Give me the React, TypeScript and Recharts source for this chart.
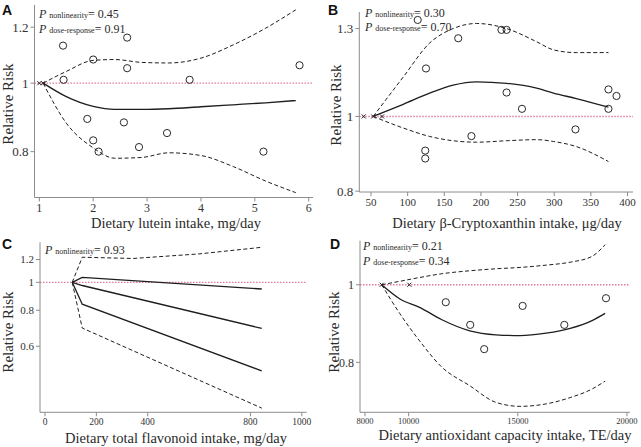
import React from 'react';
import { ComposedChart, Line, Scatter, XAxis, YAxis, ReferenceLine } from 'recharts';

const FONT = '"Liberation Serif", "Times New Roman", serif';
const SANS = '"Liberation Sans", Arial, sans-serif';

// ---------- Panel A: lutein ----------
const luteinGrid = [1.07, 1.5, 2.0, 2.4, 2.9, 3.4, 4.0, 4.6, 5.2, 5.76];
const luteinRR = [1, 0.957, 0.927, 0.918, 0.918, 0.92, 0.926, 0.932, 0.938, 0.945];
const luteinUpper = [1, 1.039, 1.077, 1.08, 1.07, 1.068, 1.085, 1.133, 1.196, 1.27];
const luteinLower = [1, 0.878, 0.81, 0.783, 0.785, 0.797, 0.79, 0.762, 0.727, 0.7];
const luteinStudyX = [1.44, 1.45, 2.0, 2.63, 2.63, 3.79, 5.83, 1.89, 2.0, 2.1, 2.57, 2.85, 3.37, 5.16];
const luteinStudyRR = [1.13, 1.011, 1.08, 1.16, 1.05, 1.011, 1.06, 0.89, 0.83, 0.8, 0.88, 0.812, 0.85, 0.8];
const luteinRefX = [1.0, 1.07];
const luteinTicksX = [1, 2, 3, 4, 5, 6];
const luteinTicksY = [0.8, 1, 1.2];

// ---------- Panel B: beta-cryptoxanthin ----------
const bcxGrid = [53, 94, 130, 162, 194, 235, 276, 299, 330, 374];
const bcxRR = [1, 1.037, 1.072, 1.098, 1.109, 1.104, 1.088, 1.072, 1.055, 1.028];
const bcxUpper = [1, 1.125, 1.245, 1.3, 1.32, 1.3, 1.25, 1.22, 1.21, 1.21];
const bcxLower = [1, 0.966, 0.942, 0.93, 0.926, 0.93, 0.933, 0.928, 0.914, 0.874];
const bcxStudyX = [113.7, 228, 235, 169, 125, 235, 374, 385, 256, 374, 329, 187, 124, 124];
const bcxStudyRR = [1.334, 1.295, 1.295, 1.263, 1.154, 1.074, 1.084, 1.063, 1.023, 1.023, 0.962, 0.943, 0.903, 0.882];
const bcxRefX = [40, 53, 65];
const bcxTicksX = [50, 100, 150, 200, 250, 300, 350, 400];
const bcxTicksY = [0.8, 1, 1.3];

// ---------- Panel C: total flavonoid ----------
const flavGrid = [106, 145, 844];
const flavLine1 = [1, 1.04, 0.948];
const flavLine2 = [1, 0.975, 0.692];
const flavLine3 = [1, 0.84, 0.493];
const flavUpperX = [106, 145, 343, 600, 844];
const flavUpper = [1, 1.222, 1.21, 1.255, 1.323];
const flavLower = [1, 0.694, 0.366];
const flavTicksX = [0, 200, 400, 800, 1000];
const flavTicksY = [0.6, 0.8, 1, 1.2];

// ---------- Panel D: antioxidant capacity ----------
const taxGrid = [8765, 9600, 10500, 11500, 12800, 14000, 15100, 16300, 17400, 18400, 19000];
const taxRR = [1, 0.96, 0.937, 0.905, 0.876, 0.866, 0.864, 0.87, 0.882, 0.902, 0.921];
const taxUpper = [1, 1.01, 1.021, 1.032, 1.041, 1.047, 1.051, 1.058, 1.067, 1.085, 1.122];
const taxLower = [1, 0.92, 0.851, 0.79, 0.748, 0.713, 0.705, 0.71, 0.723, 0.741, 0.758];
const taxStudyX = [11700, 12820, 13460, 15220, 17130, 19040];
const taxStudyRR = [0.951, 0.891, 0.831, 0.941, 0.891, 0.962];
const taxRefX = [8765, 10030];
const taxTicksX = [8000, 10000, 15000, 20000];
const taxTicksY = [0.8, 1];

const zip = (xs: number[], ys: number[]) => xs.map((x, i) => ({ x, y: ys[i] }));
const ones = (xs: number[]) => xs.map((x) => ({ x, y: 1 }));

const AXIS = '#8c8c8c';
const INK = '#1e1e1e';

const circleShape = (p: any) => (
  <circle cx={p.cx} cy={p.cy} r={3.6} fill="none" stroke="#2a2a2a" strokeWidth={1} />
);
const crossShape = (p: any) => (
  <g stroke="#222" strokeWidth={1}>
    <line x1={p.cx - 2} y1={p.cy - 2} x2={p.cx + 2} y2={p.cy + 2} />
    <line x1={p.cx - 2} y1={p.cy + 2} x2={p.cx + 2} y2={p.cy - 2} />
  </g>
);

type PanelProps = {
  box: [number, number, number, number];
  plot: [number, number, number, number];
  xDomain: [number, number];
  yDomain: [number, number];
  xTicks: number[];
  yTicks: number[];
  xFont: number;
  yFont: number;
  solids: { x: number; y: number }[][];
  dashes: { x: number; y: number }[][];
  studies: { x: number; y: number }[];
  marks: { x: number; y: number }[];
  curve: 'monotone' | 'linear';
};

function Panel(props: PanelProps) {
  const [left, top, w, h] = props.box;
  const [pl, pt, pr, pb] = props.plot;
  return (
    <div style={{ position: 'absolute', left, top, width: w, height: h }}>
      <ComposedChart width={w} height={h} margin={{ top: pt, right: w - pr, left: 0, bottom: 0 }}>
        <XAxis
          type="number"
          dataKey="x"
          domain={props.xDomain}
          ticks={props.xTicks}
          allowDataOverflow
          interval={0}
          height={h - pb}
          stroke={AXIS}
          tickSize={4}
          tickMargin={2}
          tick={{ fill: '#333', fontSize: props.xFont, fontFamily: FONT }}
        />
        <YAxis
          type="number"
          scale="log"
          domain={props.yDomain}
          ticks={props.yTicks}
          allowDataOverflow
          interval={0}
          width={pl}
          stroke={AXIS}
          tickSize={4}
          tickMargin={2}
          tick={{ fill: '#333', fontSize: props.yFont, fontFamily: FONT }}
        />
        <ReferenceLine y={1} stroke="#e27d9c" strokeWidth={1.4} strokeDasharray="1.5 1.5" />
        {props.dashes.map((d, i) => (
          <Line
            key={'d' + i}
            data={d}
            dataKey="y"
            type={props.curve}
            stroke={INK}
            strokeWidth={1}
            strokeDasharray="4 2.5"
            dot={false}
            activeDot={false}
            isAnimationActive={false}
          />
        ))}
        {props.solids.map((d, i) => (
          <Line
            key={'s' + i}
            data={d}
            dataKey="y"
            type={props.curve}
            stroke={INK}
            strokeWidth={1.3}
            dot={false}
            activeDot={false}
            isAnimationActive={false}
          />
        ))}
        <Scatter data={props.studies} dataKey="y" shape={circleShape} isAnimationActive={false} />
        <Scatter data={props.marks} dataKey="y" shape={crossShape} isAnimationActive={false} />
      </ComposedChart>
    </div>
  );
}

const T = ({ x, y, children, size = 14.5, rotate = false }: any) => (
  <div
    style={{
      position: 'absolute',
      left: x,
      top: y,
      transform: `translate(-50%, -50%)${rotate ? ' rotate(-90deg)' : ''}`,
      whiteSpace: 'nowrap',
      fontFamily: FONT,
      fontSize: size,
      color: '#2a2a2a',
      lineHeight: 1,
    }}
  >
    {children}
  </div>
);

const PStat = ({ x, y, sub, val }: any) => (
  <div
    style={{
      position: 'absolute',
      left: x,
      top: y,
      transform: 'translateY(-50%)',
      whiteSpace: 'nowrap',
      fontFamily: FONT,
      fontSize: 12,
      color: '#2a2a2a',
      lineHeight: 1,
    }}
  >
    <i>P</i> <span style={{ fontSize: 8 }}>{sub}</span>= {val}
  </div>
);

const Letter = ({ x, y, c }: any) => (
  <div
    style={{
      position: 'absolute',
      left: x,
      top: y,
      fontFamily: SANS,
      fontWeight: 700,
      fontSize: 14,
      color: '#111',
      lineHeight: 1,
    }}
  >
    {c}
  </div>
);

export default function App() {
  return (
    <div style={{ position: 'absolute', left: 0, top: 0, width: 641, height: 447, background: '#fff', overflow: 'hidden' }}>
      <Panel
        box={[0, 0, 320, 224]}
        plot={[34.5, 5, 313, 197.5]}
        xDomain={[0.91, 6.08]}
        yDomain={[0.689, 1.29]}
        xTicks={luteinTicksX}
        yTicks={luteinTicksY}
        xFont={12}
        yFont={13}
        solids={[zip(luteinGrid, luteinRR)]}
        dashes={[zip(luteinGrid, luteinUpper), zip(luteinGrid, luteinLower)]}
        studies={zip(luteinStudyX, luteinStudyRR)}
        marks={ones(luteinRefX)}
        curve="monotone"
      />
      <Panel
        box={[320, 0, 321, 224]}
        plot={[39.3, 12, 313, 192]}
        xDomain={[34, 407.5]}
        yDomain={[0.798, 1.366]}
        xTicks={bcxTicksX}
        yTicks={bcxTicksY}
        xFont={11}
        yFont={13}
        solids={[zip(bcxGrid, bcxRR)]}
        dashes={[zip(bcxGrid, bcxUpper), zip(bcxGrid, bcxLower)]}
        studies={zip(bcxStudyX, bcxStudyRR)}
        marks={ones(bcxRefX)}
        curve="monotone"
      />
      <Panel
        box={[0, 224, 320, 223]}
        plot={[40, 18.3, 306.7, 188.3]}
        xDomain={[-19.5, 1019]}
        yDomain={[0.354, 1.377]}
        xTicks={flavTicksX}
        yTicks={flavTicksY}
        xFont={9.5}
        yFont={11}
        solids={[zip(flavGrid, flavLine1), zip(flavGrid, flavLine2), zip(flavGrid, flavLine3)]}
        dashes={[zip(flavUpperX, flavUpper), zip(flavGrid, flavLower)]}
        studies={[]}
        marks={[]}
        curve="linear"
      />
      <Panel
        box={[320, 224, 321, 223]}
        plot={[40, 16.7, 310, 188.3]}
        xDomain={[7771, 20139]}
        yDomain={[0.693, 1.135]}
        xTicks={taxTicksX}
        yTicks={taxTicksY}
        xFont={8.5}
        yFont={12}
        solids={[zip(taxGrid, taxRR)]}
        dashes={[zip(taxGrid, taxUpper), zip(taxGrid, taxLower)]}
        studies={zip(taxStudyX, taxStudyRR)}
        marks={ones(taxRefX)}
        curve="monotone"
      />

      <Letter x={2} y={3} c="A" />
      <Letter x={328} y={3} c="B" />
      <Letter x={2} y={237} c="C" />
      <Letter x={330} y={237} c="D" />

      <PStat x={39} y={14} sub="nonlinearity" val="0.45" />
      <PStat x={39} y={29.3} sub="dose-response" val="0.91" />
      <PStat x={365} y={12.7} sub="nonlinearity" val="0.30" />
      <PStat x={365} y={27.3} sub="dose-response" val="0.70" />
      <PStat x={45} y={250} sub="nonlinearity" val="0.93" />
      <PStat x={363} y={245.7} sub="nonlinearity" val="0.21" />
      <PStat x={363} y={260.7} sub="dose-response" val="0.34" />

      <T x={8} y={104} size={15} rotate>Relative Risk</T>
      <T x={336} y={105} size={15} rotate>Relative Risk</T>
      <T x={8} y={332} size={15} rotate>Relative Risk</T>
      <T x={334} y={332} size={15} rotate>Relative Risk</T>

      <T x={176} y={223}>Dietary lutein intake, mg/day</T>
      <T x={507} y={223}>Dietary β-Cryptoxanthin intake, μg/day</T>
      <T x={176} y={438}>Dietary total flavonoid intake, mg/day</T>
      <T x={505} y={435}>Dietary antioxidant capacity intake, TE/day</T>
    </div>
  );
}
